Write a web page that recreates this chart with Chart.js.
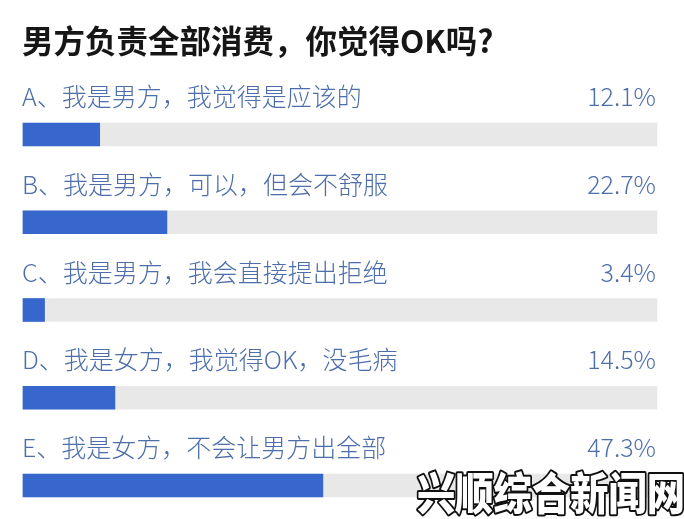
<!DOCTYPE html>
<html>
<head>
<meta charset="utf-8">
<script src="https://cdn.jsdelivr.net/npm/chart.js@4"></script>
<style>
  html, body { margin: 0; padding: 0; background: #fff; }
  #wrap { width: 684px; height: 519px; }
</style>
</head>
<body>
<div id="wrap"><canvas id="pollChart" width="684" height="519"></canvas></div>
<script>
// poll data
const pollTitle = '男方负责全部消费，你觉得OK吗?';
const optionLabels = [
  'A、我是男方，我觉得是应该的',
  'B、我是男方，可以，但会不舒服',
  'C、我是男方，我会直接提出拒绝',
  'D、我是女方，我觉得OK，没毛病',
  'E、我是女方，不会让男方出全部'
];
const percentValues = [12.1, 22.7, 3.4, 14.5, 47.3];
const trackValues = [100, 100, 100, 100, 100];
const watermarkText = '兴顺综合新闻网';

const textBlue = '#4d6eab';
const fillBlue = '#3767cd';
const trackGrey = '#e8e8e8';

// draws title, option texts, percentages and the watermark
const pollText = {
  id: 'pollText',
  afterDatasetsDraw(chart) {
    const ctx = chart.ctx;
    const area = chart.chartArea;
    const meta = chart.getDatasetMeta(0);

    ctx.save();
    ctx.textBaseline = 'middle';

    ctx.fillStyle = '#161616';
    ctx.font = 'bold 31.5px "Noto Sans CJK SC"';
    ctx.textAlign = 'left';
    ctx.fillText(pollTitle, area.left - 1, 41);

    meta.data.forEach((bar, i) => {
      const y = bar.y - 38;
      ctx.fillStyle = textBlue;
      ctx.font = '300 25px "Noto Sans CJK SC"';
      ctx.textAlign = 'left';
      ctx.fillText(optionLabels[i], area.left - 1, y);
      ctx.textAlign = 'right';
      ctx.fillText(percentValues[i].toFixed(1) + '%', area.right - 1, y);
    });

    // watermark
    ctx.translate(417, 493);
    ctx.scale(0.87, 1);
    ctx.font = '900 44px "Noto Sans CJK SC"';
    ctx.textAlign = 'left';
    ctx.lineJoin = 'round';
    ctx.lineWidth = 4;
    ctx.strokeStyle = '#111';
    ctx.strokeText(watermarkText, 0, 0);
    ctx.fillStyle = '#fff';
    ctx.fillText(watermarkText, 0, 0);
    ctx.restore();
  }
};

new Chart(document.getElementById('pollChart'), {
  type: 'bar',
  data: {
    labels: optionLabels,
    datasets: [
      {
        data: percentValues,
        backgroundColor: fillBlue,
        barThickness: 23,
        grouped: false,
        clip: false
      },
      {
        data: trackValues,
        backgroundColor: trackGrey,
        barThickness: 23,
        grouped: false,
        clip: false
      }
    ]
  },
  options: {
    indexAxis: 'y',
    responsive: false,
    animation: false,
    layout: { padding: { left: 23, right: 27, top: 134.5, bottom: 33.5 } },
    scales: {
      x: { display: false, min: 0, max: 100 },
      y: { display: false, offset: false }
    },
    plugins: {
      legend: { display: false },
      tooltip: { enabled: false }
    }
  },
  plugins: [pollText]
});
</script>
</body>
</html>
